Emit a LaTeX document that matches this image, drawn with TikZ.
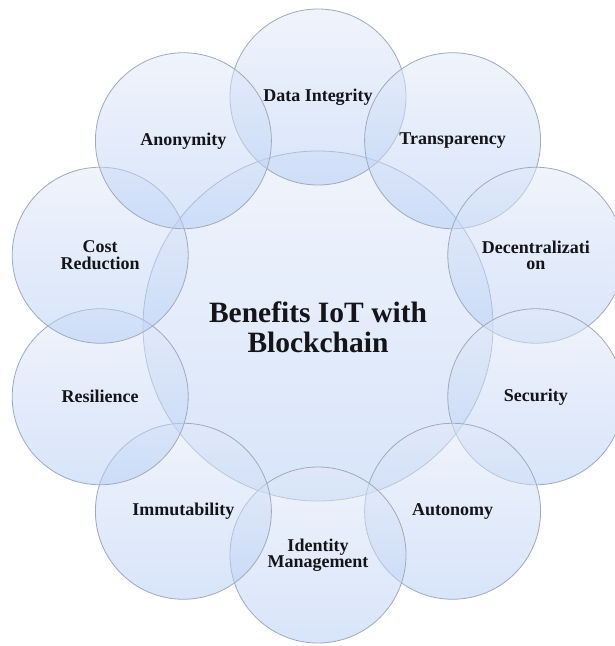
\documentclass[tikz,border=0pt]{standalone}
\usepackage{fontspec}
\setmainfont{Liberation Serif}
\definecolor{ctop}{RGB}{226,234,249}
\definecolor{cbot}{RGB}{178,203,246}
\definecolor{cline}{RGB}{160,170,188}
\definecolor{ctext}{RGB}{20,20,25}
\begin{document}
\begin{tikzpicture}[x=1pt,y=-1pt,
  bubble/.style={circle, minimum size=176pt, inner sep=0pt, draw=cline, line width=0.8pt,
    top color=ctop, bottom color=cbot, fill opacity=0.5, draw opacity=1},
  hub/.style={bubble, minimum size=350pt},
  lbl/.style={align=center, text=ctext, font=\bfseries\fontsize{18}{16.5}\selectfont},
  hublbl/.style={align=center, text=ctext, font=\bfseries\fontsize{29.5}{30}\selectfont}]
\fill[white] (0,0) rectangle (614,646);
\useasboundingbox (0,0) rectangle (614,646);
\coordinate (c) at (318,326);
\node[hub] (hubc) at (c) {};
\begin{scope}[shift={(318,326)}]
\node[bubble] (b1) at (-90:229) {};
\node[bubble] (b2) at (-54:229) {};
\node[bubble] (b3) at (-18:229) {};
\node[bubble] (b4) at (18:229) {};
\node[bubble] (b5) at (54:229) {};
\node[bubble] (b6) at (90:229) {};
\node[bubble] (b7) at (126:229) {};
\node[bubble] (b8) at (162:229) {};
\node[bubble] (b9) at (198:229) {};
\node[bubble] (b10) at (234:229) {};
\end{scope}
\node[hublbl] (t0) at (318,327) {Benefits IoT with\\Blockchain};
\node[lbl] (t1) at (b1) {Data Integrity};
\node[lbl] (t2) at (b2) {Transparency};
\node[lbl] (t3) at (b3) {Decentralizati\\on};
\node[lbl] (t4) at (b4) {Security};
\node[lbl] (t5) at (b5) {Autonomy};
\node[lbl] (t6) at (b6) {Identity\\Management};
\node[lbl] (t7) at (b7) {Immutability};
\node[lbl] (t8) at (b8) {Resilience};
\node[lbl] (t9) at (b9) {Cost\\Reduction};
\node[lbl] (t10) at (b10) {Anonymity};
\end{tikzpicture}
\end{document}
